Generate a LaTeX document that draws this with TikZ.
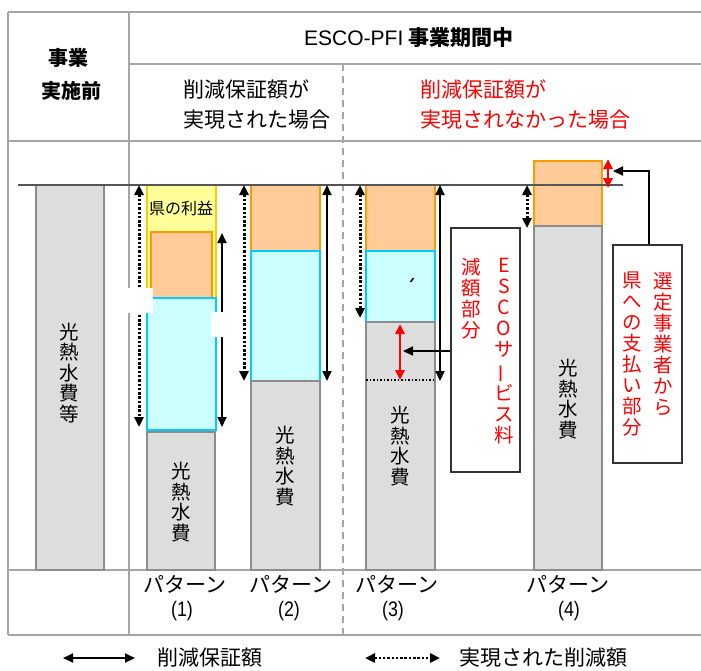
\documentclass[tikz,border=0pt]{standalone}
\usepackage{fontspec}
\usepackage{graphicx}
\setmainfont{Noto Sans CJK JP}
\newfontfamily\latinsans{Liberation Sans}
\usetikzlibrary{arrows.meta}
\definecolor{tline}{HTML}{A6A6A6}
\definecolor{gfill}{HTML}{DDDDDD}
\definecolor{gedge}{HTML}{8C8C8C}
\definecolor{ofill}{HTML}{FFCC99}
\definecolor{oedge}{HTML}{FF9900}
\definecolor{cfill}{HTML}{CCFFFF}
\definecolor{cedge}{HTML}{00CCFF}
\definecolor{yfill}{HTML}{FFFF99}
\definecolor{yedge}{HTML}{FFCC00}
\definecolor{base}{HTML}{555555}
\definecolor{boxedge}{HTML}{333333}
\newcommand{\vbar}{\rotatebox[origin=c]{90}{ー}}
\newcommand{\pnum}[1]{{\latinsans\scalebox{0.85}[1]{#1}}}
\begin{document}
\begin{tikzpicture}[x=1pt,y=-1pt,
  grid/.style={draw=tline,line width=1.5pt},
  gbar/.style={fill=gfill,draw=gedge,line width=1.5pt},
  obar/.style={fill=ofill,draw=oedge,line width=1.5pt},
  cbar/.style={fill=cfill,draw=cedge,line width=1.5pt},
  ybar/.style={fill=yfill,draw=yedge,line width=1.5pt},
  tbox/.style={fill=white,draw=boxedge,line width=1.5pt},
  dbl/.style={{Triangle[length=10pt,width=9pt]}-{Triangle[length=10pt,width=9pt]},line width=2pt},
  dotarr/.style={dbl,dash pattern=on 2.5pt off 1.8pt,line width=3pt},
  redarr/.style={dbl,draw=red,line width=2.5pt},
  onearr/.style={-{Triangle[length=10pt,width=9pt]},line width=2pt},
  vt/.style={align=center,inner sep=0pt,font=\fontsize{19.5}{20.5}\selectfont},
  vtr/.style={align=center,inner sep=0pt,text=red,font=\fontsize{19.5}{21}\selectfont},
  hd/.style={inner sep=0pt,font=\fontsize{21}{23}\selectfont},
  hb/.style={inner sep=0pt,font=\fontsize{20}{22}\selectfont\bfseries},
  lab/.style={inner sep=0pt,font=\fontsize{21}{23}\selectfont}
]
\useasboundingbox (0,0) rectangle (701,670);

% table
\draw[grid] (8,12) -- (701,12);
\draw[grid] (129,64) -- (701,64);
\draw[grid] (8,141) -- (701,141);
\draw[grid] (8,570) -- (701,570);
\draw[grid] (8,635) -- (701,635);
\draw[grid] (8,12) -- (8,635);
\draw[grid] (129,12) -- (129,635);
\draw[grid,dashed,dash pattern=on 7pt off 5pt] (343,64) -- (343,635);

% headers
\node[hb] (hdrA) at (68,58) {事業};
\node[hb] (hdrB) at (71,91) {実施前};
\node[hb,anchor=west,font=\fontsize{21}{23}\selectfont\bfseries] (hdrC) at (304,38) {{\latinsans\mdseries ESCO-PFI} 事業期間中};
\node[hd,anchor=west] (ok1) at (183,89) {削減保証額が};
\node[hd,anchor=west] (ok2) at (183,120) {実現された場合};
\node[hd,anchor=west,text=red] (ng1) at (420,89) {削減保証額が};
\node[hd,anchor=west,text=red] (ng2) at (420,120) {実現されなかった場合};

% pattern 0
\draw[gbar] (36,185) rectangle (104,570);
\node[vt] (t0) at (69,373) {光\\熱\\水\\費\\等};

% pattern 1
\draw[ybar] (147,185) rectangle (216,298);
\draw[obar] (151,232) rectangle (212,298);
\draw[cbar] (147,298) rectangle (216,430);
\draw[gbar] (147,432) rectangle (215,570);
\node[inner sep=0pt,font=\fontsize{16}{18}\selectfont] (kenri) at (181,208) {県の利益};
\node[vt] (t1) at (181,502) {光\\熱\\水\\費};

% pattern 2
\draw[obar] (251,185) rectangle (320,251);
\draw[cbar] (251,251) rectangle (320,381);
\draw[gbar] (251,381) rectangle (320,570);
\node[vt] (t2) at (285,466) {光\\熱\\水\\費};

% pattern 3
\draw[obar] (366,185) rectangle (435,251);
\draw[cbar] (366,251) rectangle (435,322);
\draw[gbar] (366,322) rectangle (435,570);
\draw[line width=1.5pt,dash pattern=on 1.5pt off 2pt] (366,380) -- (435,380);
\draw[line width=1.5pt] (410.5,282) -- (413.5,278);
\node[vt] (t3) at (400,446) {光\\熱\\水\\費};

% pattern 4
\draw[obar] (534,161) rectangle (602,226);
\draw[gbar] (534,226) rectangle (602,570);
\node[vt] (t4) at (568,399) {光\\熱\\水\\費};

% baseline
\draw[draw=base,line width=1.5pt] (18,185) -- (623,185);

% coordinates for arrows
\coordinate (a1t) at (139,185); \coordinate (a1b) at (139,427);
\coordinate (s1t) at (222,233); \coordinate (s1b) at (222,427);
\coordinate (a2t) at (244,185); \coordinate (a2b) at (244,381);
\coordinate (s2t) at (327,185); \coordinate (s2b) at (327,381);
\coordinate (a3t) at (360,185); \coordinate (a3b) at (360,318);
\coordinate (s3t) at (440,185); \coordinate (s3b) at (440,381);
\coordinate (r3t) at (400,324); \coordinate (r3b) at (400,380);
\coordinate (a4t) at (527,185); \coordinate (a4b) at (527,228);
\coordinate (r4t) at (608,159); \coordinate (r4b) at (608,188);

\draw[dotarr] (a1t) -- (a1b);
\draw[dbl] (s1t) -- (s1b);
\draw[dotarr] (a2t) -- (a2b);
\draw[dbl] (s2t) -- (s2b);
\draw[dotarr] (a3t) -- (a3b);
\draw[dbl] (s3t) -- (s3b);
\draw[redarr] (r3t) -- (r3b);
\draw[dotarr] (a4t) -- (a4b);
\draw[redarr] (r4t) -- (r4b);

% callout boxes
\node[tbox,minimum width=69pt,minimum height=244pt,inner sep=0pt] (box3) at (485.5,350) {};
\node[vtr,anchor=north] (esco) at (504,258) {E\\S\\C\\O\\サ\\\vbar\\ビ\\ス\\料};
\node[vtr,anchor=north] (gen) at (471,258) {減\\額\\部\\分};
\coordinate (p3) at (403,351);
\draw[onearr] (box3.west |- p3) -- (p3);

\node[tbox,minimum width=69pt,minimum height=218pt,inner sep=0pt] (box4) at (647.5,354) {};
\node[vtr,anchor=north] (sen) at (663,272) {選\\定\\事\\業\\者\\か\\ら};
\node[vtr,anchor=north] (ken) at (632,272) {県\\へ\\の\\支\\払\\い\\部\\分};
\coordinate (p4) at (613,171);
\draw[onearr] (box4.north -| 649,0) |- (p4);

% white patches
\fill[white] (128,288) rectangle (153,313);
\fill[white] (211,312) rectangle (233,337);

% pattern labels
\node[lab] (pl1) at (185,584) {パターン};
\node[lab] (pl2) at (291,584) {パターン};
\node[lab] (pl3) at (397,584) {パターン};
\node[lab] (pl4) at (568,584) {パターン};
\node[lab,font=\fontsize{21}{23}\selectfont] (n1) at (182,611) {\pnum{(1)}};
\node[lab,font=\fontsize{21}{23}\selectfont] (n2) at (289,611) {\pnum{(2)}};
\node[lab,font=\fontsize{21}{23}\selectfont] (n3) at (393,611) {\pnum{(3)}};
\node[lab,font=\fontsize{21}{23}\selectfont] (n4) at (569,611) {\pnum{(4)}};

% legend
\coordinate (l1a) at (63,658); \coordinate (l1b) at (135,658);
\coordinate (l2a) at (365,658); \coordinate (l2b) at (440,658);
\draw[dbl] (l1a) -- (l1b);
\draw[dotarr,line width=2.5pt] (l2a) -- (l2b);
\node[lab,anchor=west] (lg1) at (157,658) {削減保証額};
\node[lab,anchor=west] (lg2) at (459,658) {実現された削減額};
\end{tikzpicture}
\end{document}
